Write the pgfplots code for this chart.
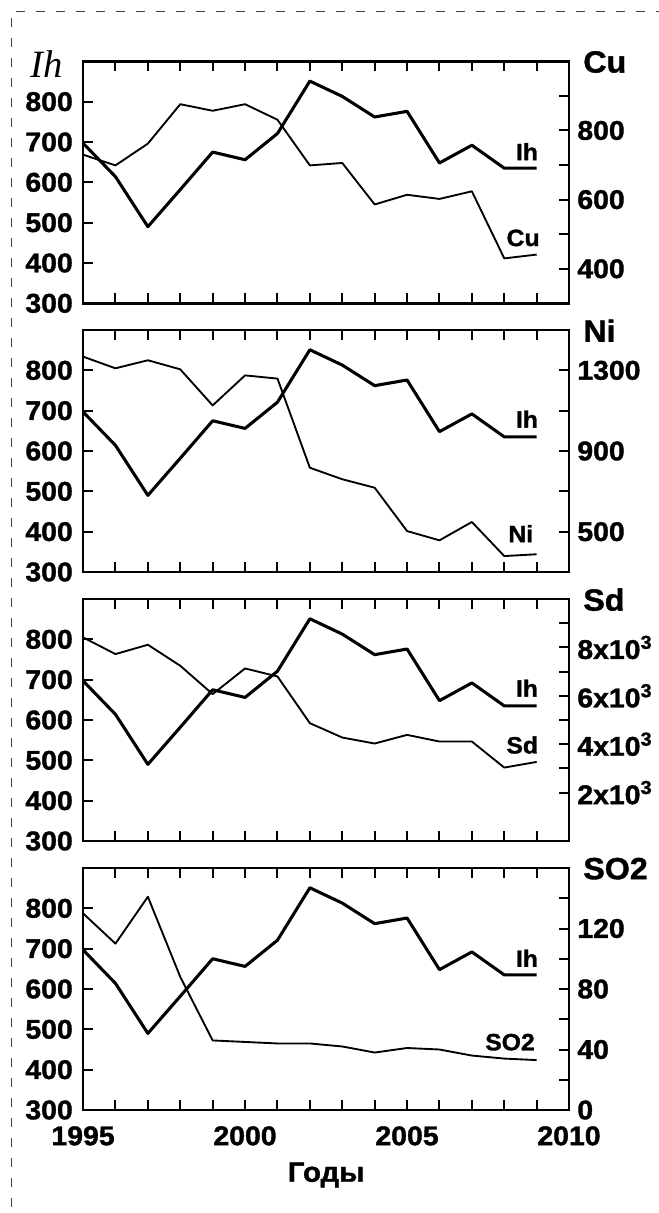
\documentclass[border=0pt]{standalone}
\usepackage{fontspec}
\setmainfont{Liberation Sans}[FakeStretch=1.05, BoldFeatures={FakeBold=1.3}]
\newfontfamily\ihfont{Liberation Serif}
\usepackage{pgfplots}
\usepackage{pgfplotstable}
\pgfplotsset{compat=1.18}
\newcommand\tfont{\fontsize{20.3}{22}\selectfont\bfseries}
\newcommand\hfont{\fontsize{23}{26}\selectfont\bfseries}
\newcommand\lfont{\fontsize{17.7}{20}\selectfont\bfseries}
\newcommand\gfont{\fontsize{21}{24}\selectfont\bfseries}

\pgfplotstableread{
year Ih Cu Ni Sd SO2
1995 697 730 1368 8414 130
1996 614 699 1310 7724 110
1997 490 762 1350 8110 141
1998 582 876 1305 7241 88
1999 675 857 1126 6069 46
2000 656 876 1275 7131 45
2001 721 831 1259 6800 44
2002 851 699 817 4869 44
2003 813 706 760 4276 42
2004 762 586 718 4028 38
2005 776 614 503 4386 41
2006 648 602 457 4110 40
2007 692 624 548 4110 36
2008 635 430 379 3034 34
2009 635 441 388 3269 33
}\datatable

\tikzset{
  ihline/.style={black, line width=2.3pt, line join=round},
  elline/.style={black, line width=1.4pt, line join=round},
  ttl/.style={anchor=west, inner sep=0pt, font=\hfont, xshift=10.5pt, yshift=-0.5pt},
  lab/.style={anchor=base east, inner sep=0pt, font=\lfont},
}
\pgfplotsset{
  panel/.style={scale only axis, width=364.5pt, height=181.5pt, xmin=1995, xmax=2010, clip=false,
    axis line style={line width=1.9pt}, tick style={line width=1.5pt, black},
    major tick length=7.5pt, tick align=inside, scaled y ticks=false,
    /pgf/number format/assume math mode=true, /pgf/number format/1000 sep={},
    tick label style={font=\tfont, inner sep=0pt},
    anchor=north west},
  leftax/.style={panel, ymin=300, ymax=900, ytick={300,400,...,800}, ytick pos=left,
    xtick={1995,...,2010}, xticklabels={}, yticklabel shift=7.5pt},
  rightax/.style={panel, axis x line=none, axis y line*=right, ytick pos=right, yticklabel shift=6pt},
}

\begin{document}
\begin{tikzpicture}
\useasboundingbox (0,0) rectangle (493.5pt,-909.75pt);
\draw[dash pattern=on 6.2pt off 8.8pt, line width=0.8pt, black!75] (8.5pt,-920pt) -- (8.5pt,-8.8pt) -- (500pt,-8.8pt);

% Panel 1: Cu
\begin{axis}[leftax, at={(62.3pt,-46pt)}]
\addplot[ihline] table[x=year, y=Ih] {\datatable};
\node[lab] at (axis cs:2009.05,655) {Ih};
\node[lab] at (axis cs:2009.1,442) {Cu};
\node[anchor=east, inner sep=0pt, font=\ihfont\itshape\fontsize{29}{32}\selectfont, xshift=-15pt, yshift=-2pt] at (rel axis cs:0,1) {Ih};
\end{axis}
\begin{axis}[rightax, at={(62.3pt,-46pt)}, ymin=300, ymax=1000, ytick={400,500,...,900}, yticklabels={400,,600,,800,}]
\addplot[elline] table[x=year, y=Cu] {\datatable};
\node[ttl] at (rel axis cs:1,1) {Cu};
\end{axis}

% Panel 2: Ni
\begin{axis}[leftax, at={(62.3pt,-247.5pt)}]
\addplot[ihline] table[x=year, y=Ih] {\datatable};
\node[lab] at (axis cs:2009.05,658) {Ih};
\node[lab] at (axis cs:2008.9,374) {Ni};
\end{axis}
\begin{axis}[rightax, at={(62.3pt,-247.5pt)}, ymin=300, ymax=1500, ytick={500,700,...,1300}, yticklabels={500,,900,,1300}]
\addplot[elline] table[x=year, y=Ni] {\datatable};
\node[ttl] at (rel axis cs:1,1) {Ni};
\end{axis}

% Panel 3: Sd
\begin{axis}[leftax, at={(62.3pt,-449.25pt)}]
\addplot[ihline] table[x=year, y=Ih] {\datatable};
\node[lab] at (axis cs:2009.05,658) {Ih};
\node[lab] at (axis cs:2009.05,517) {Sd};
\end{axis}
\begin{axis}[rightax, at={(62.3pt,-449.25pt)}, ymin=0, ymax=10000, ytick={2000,3000,...,9000},
  yticklabels={2x10\textsuperscript{3},,4x10\textsuperscript{3},,6x10\textsuperscript{3},,8x10\textsuperscript{3},}]
\addplot[elline] table[x=year, y=Sd] {\datatable};
\node[ttl] at (rel axis cs:1,1) {Sd};
\end{axis}

% Panel 4: SO2
\begin{axis}[leftax, at={(62.3pt,-651pt)}, xticklabels={1995,,,,,2000,,,,,2005,,,,,2010}, xticklabel shift=12pt]
\addplot[ihline] table[x=year, y=Ih] {\datatable};
\node[lab] at (axis cs:2009.05,655) {Ih};
\node[lab] at (axis cs:2008.95,448) {SO2};
\node[anchor=base, inner sep=0pt, font=\gfont, yshift=-53.8pt] at (rel axis cs:0.5,0) {Годы};
\end{axis}
\begin{axis}[rightax, at={(62.3pt,-651pt)}, ymin=0, ymax=160, ytick={0,20,...,140}, yticklabels={0,,40,,80,,120,}]
\addplot[elline] table[x=year, y=SO2] {\datatable};
\node[ttl] at (rel axis cs:1,1) {SO2};
\end{axis}
\end{tikzpicture}
\end{document}
